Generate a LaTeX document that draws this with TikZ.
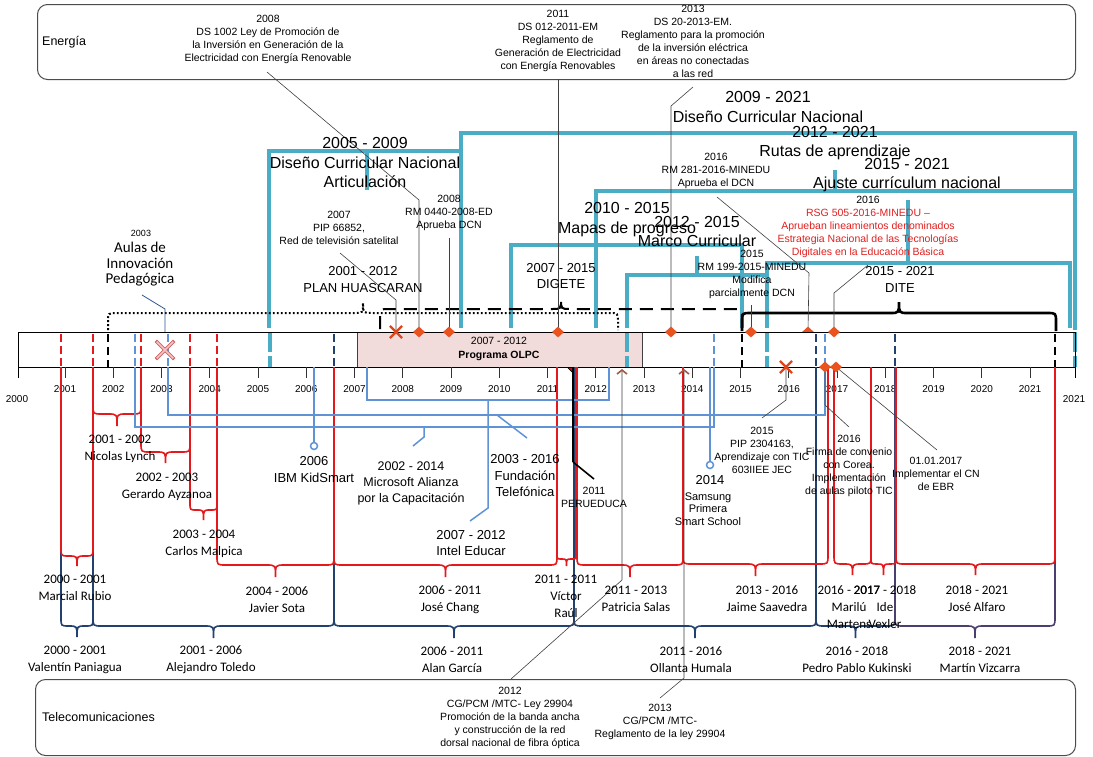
\documentclass[tikz,border=0pt]{standalone}
\usepackage{fontspec}
\setmainfont{Liberation Sans}
\newfontfamily\calfont{Carlito}
\usetikzlibrary{arrows.meta,shapes.geometric,shapes.misc}
\definecolor{tealc}{HTML}{4BACC6}
\definecolor{mred}{HTML}{E3191C}
\definecolor{navy}{HTML}{23416F}
\definecolor{lblue}{HTML}{5F93D6}
\definecolor{dia}{HTML}{EA531E}
\definecolor{olpcfill}{HTML}{F2DCDB}
\definecolor{brownc}{HTML}{A05A48}
\definecolor{conng}{HTML}{404040}
\definecolor{rednote}{HTML}{E21F1F}
\definecolor{xred}{HTML}{E0461E}
\definecolor{pinkx}{HTML}{F6C4C4}
\definecolor{pinkxd}{HTML}{D06060}
\definecolor{aulasc}{HTML}{2F5590}
\definecolor{navyp}{HTML}{4A3F6E}
\newcommand\cbrace[6][]{%
  \pgfmathsetmacro\cbxc{(#2+#3)/2}%
  \pgfmathsetmacro\cbr{min(9,(#3-#2)/4)}%
  \pgfmathsetmacro\cbs{(#5>#4)?1:-1}%
  \pgfmathsetmacro\cbv{#5-\cbs*\cbr}%
  \draw[#1] (#2,#4) -- (#2,\cbv) .. controls (#2,#5) .. (#2+\cbr,#5) -- (\cbxc-\cbr,#5) .. controls (\cbxc,#5) .. (\cbxc,#6) .. controls (\cbxc,#5) .. (\cbxc+\cbr,#5) -- (#3-\cbr,#5) .. controls (#3,#5) .. (#3,\cbv) -- (#3,#4);%
}
\tikzset{
 note/.style={font=\fontsize{10.5}{13}\selectfont, align=center, inner sep=0pt},
 bigl/.style={font=\fontsize{16}{19.5}\selectfont, align=center, inner sep=0pt},
 midl/.style={font=\fontsize{13}{16.5}\selectfont, align=center, inner sep=0pt},
 call/.style={font=\calfont\fontsize{13}{17}\selectfont, align=center, inner sep=0pt},
 yrl/.style={font=\fontsize{10}{12}\selectfont, inner sep=0pt},
 tealb/.style={tealc, line width=3.6pt},
 tealdash/.style={tealc, line width=3.6pt, dash pattern=on 20pt off 4pt},
 redb/.style={mred, line width=1.6pt},
 navyb/.style={navy, line width=1.6pt},
 blueb/.style={lblue, line width=1.5pt},
 conn/.style={conng, line width=0.6pt},
 diam/.style={diamond, fill=dia, inner sep=0pt, minimum width=12pt, minimum height=11pt},
 xmk/.style={cross out, draw=xred, line width=2.2pt, minimum size=10pt, inner sep=0pt},
 box/.style={draw=black!70, rounded corners=10pt, line width=1pt, inner sep=0pt, anchor=north west},
 barb/.style={{Straight Barb[color=brownc, line width=1.6pt, length=4pt, width=10pt]}-},
 dot/.style={circle, draw=lblue, line width=1.5pt, fill=white, minimum size=7pt, inner sep=0pt}
}
\begin{document}
\begin{tikzpicture}[x=1pt,y=-1pt]
\useasboundingbox (0,0) rectangle (1093,756);
\fill[white] (0,0) rectangle (1093,756);

% ---------- boxes
\node[box, minimum width=1038pt, minimum height=75pt] (energia) at (37,4) {};
\node[anchor=west, inner sep=0pt, font=\fontsize{12.5}{15}\selectfont] (energiaT) at (42,42) {Energía};
\node[box, minimum width=1040pt, minimum height=76pt] (telecom) at (35,679) {};
\node[anchor=west, inner sep=0pt, font=\fontsize{12.5}{15}\selectfont] (telecomT) at (42,717) {Telecomunicaciones};

% ---------- named points
\coordinate (p419) at (419,332); \coordinate (p449) at (449,332); \coordinate (p558) at (558,332);
\coordinate (p671) at (671,332); \coordinate (p751) at (751,332); \coordinate (p808) at (808,332);
\coordinate (p834) at (834,332); \coordinate (q825) at (825,367); \coordinate (q836) at (836,367);
\coordinate (xa) at (396,332); \coordinate (xb) at (786,367); \coordinate (q573) at (573,367);
\coordinate (br1) at (622,369); \coordinate (br2) at (684,369); \coordinate (ax) at (165,350);
\coordinate (c08a) at (267,72); \coordinate (c08b) at (419,200);
\coordinate (c11a) at (558,79);
\coordinate (c13a) at (693,87); \coordinate (c13b) at (671,106);
\coordinate (c07a) at (340,253); \coordinate (c07b) at (396,300);
\coordinate (c08c) at (449,238);
\coordinate (c16a) at (717,197); \coordinate (c16b) at (809,273);
\coordinate (c15a) at (751,305);
\coordinate (c16c) at (868,265); \coordinate (c16d) at (834,293);
\coordinate (ca1) at (142,295); \coordinate (ca2) at (165,309); \coordinate (ca3) at (165,344);
\coordinate (c15b1) at (786,400); \coordinate (c15b2) at (762,418);
\coordinate (c16e1) at (825,405); \coordinate (c16e2) at (849,427);
\coordinate (c17) at (937,450);
\coordinate (cpe1) at (573,462); \coordinate (cpe2) at (594,479);
\coordinate (ct12a) at (622,580); \coordinate (ct12b) at (511,679);
\coordinate (ct13a) at (684,678); \coordinate (ct13b) at (660,698);

% ---------- teal curriculum brackets
\draw[tealb] (269,328) -- (269,151) -- (461,151);
\draw[tealb] (367,151) -- (367,190);
\draw[tealb] (461,328) -- (461,133) -- (1075,133) -- (1075,330);
\draw[tealb] (596,328) -- (596,191) -- (1075,191);
\draw[tealb] (835,191) -- (835,170);
\draw[tealb] (511,328) -- (511,245) -- (742,245) -- (742,328);
\draw[tealb] (627,328) -- (627,275) -- (767,275) -- (767,328);
\draw[tealb] (697,275) -- (697,256);
\draw[tealb] (767,275) -- (767,263) -- (1070,263) -- (1070,328);
\draw[tealb] (908,263) -- (908,200);

% ---------- top braces
\cbrace[black, line width=2pt, dash pattern=on 1.8pt off 2.2pt]{108}{618}{330}{313}{303}
\cbrace[black, line width=2pt, dash pattern=on 13pt off 8pt]{380}{742}{329}{309}{299}
\cbrace[black, line width=2.6pt]{742}{1056}{331}{313}{302}

% ---------- top connectors
\draw[conn] (c08a) -- (c08b) -- (p419);
\draw[conn] (c11a) -- (p558);
\draw[conn] (c13a) -- (c13b) -- (p671);
\draw[conn] (c07a) -- (c07b) -- (xa);
\draw[conn] (c08c) -- (p449);
\draw[conn] (c16a) -- (c16b) -- (p808);
\draw[conn] (c15a) -- (p751);
\draw[conn] (c16c) -- (c16d) -- (p834);
\draw[aulasc, line width=0.8pt] (ca1) -- (ca2) -- (ca3);

% ---------- top texts
\node[note] (n08) at (268,39.5) {2008\\DS 1002 Ley de Promoción de\\la Inversión en Generación de la\\Electricidad con Energía Renovable};
\node[note] (n11) at (558,41) {2011\\DS 012-2011-EM\\Reglamento de\\Generación de Electricidad\\con Energía Renovables};
\node[note] (n13) at (693,41.5) {2013\\DS 20-2013-EM.\\Reglamento para la promoción\\de la inversión eléctrica\\en áreas no conectadas\\a las red};

\node[bigl] (l0509) at (365,162.5) {2005 - 2009\\Diseño Curricular Nacional\\Articulación};
\node[bigl] (l0921) at (768,107) {2009 - 2021\\Diseño Curricular Nacional};
\node[bigl] (l1221) at (835,143) {2012 - 2021\\Rutas de aprendizaje};
\node[bigl] (l1521) at (907,175) {2015 - 2021\\Ajuste currículum nacional};
\node[bigl] (l1015) at (627,219.5) {2010 - 2015\\Mapas de progreso};
\node[bigl] (l1215) at (697,231.5) {2012 - 2015\\Marco Curricular};

\node[midl] (lplan) at (363,279.5) {2001 - 2012\\PLAN HUASCARAN};
\node[midl] (ldig) at (561,276) {2007 - 2015\\DIGETE};
\node[midl] (ldite) at (900,279.5) {2015 - 2021\\DITE};

\node[note] (n07) at (339,228) {2007\\PIP 66852,\\Red de televisión satelital};
\node[note] (n08b) at (449,212.5) {2008\\RM 0440-2008-ED\\Aprueba DCN};
\node[note] (n16a) at (716,171) {2016\\RM 281-2016-MINEDU\\Aprueba el DCN};
\node[note] (n15) at (752,274) {2015\\RM 199-2015-MINEDU\\Modifica\\parcialmente DCN};
\node[note, text=rednote] (n16b) at (868,227) {\textcolor{black}{2016}\\RSG 505-2016-MINEDU –\\Aprueban lineamientos denominados\\Estrategia Nacional de las Tecnologías\\Digitales en la Educación Básica};

\node[font=\fontsize{9}{10}\selectfont, inner sep=0pt] (a03) at (141,233) {2003};
\node[font=\calfont\fontsize{15}{15.5}\selectfont, align=center, inner sep=0pt] (aulas) at (140,264.5) {Aulas de\\Innovación\\Pedagógica};

% ---------- hidden-half diamonds
\node[diam] (dm808) at (p808) {};
\node[diamond, fill=mred!85!black, draw=black, line width=0.6pt, inner sep=0pt, minimum width=12pt, minimum height=12pt] (dperu) at (q573) {};

% ---------- timeline bar
\node[fill=white, minimum width=1057pt, minimum height=35pt, inner sep=0pt, anchor=north west] (bar) at (18,332) {};
\node[fill=olpcfill, minimum width=285pt, minimum height=35pt, inner sep=0pt, anchor=north west] (olpc) at (357,332) {};
\foreach \xx in {61,93,141,190,217} \draw[mred, line width=1.6pt, dash pattern=on 8pt off 4pt] (\xx,334) -- (\xx,367);
\foreach \xx in {135,168,714,825} \draw[lblue, line width=1.5pt, dash pattern=on 8pt off 4pt] (\xx,334) -- (\xx,367);
\foreach \xx in {334,816,895} \draw[navy, line width=1.6pt, dash pattern=on 8pt off 4pt] (\xx,334) -- (\xx,367);
\foreach \xx in {270,627,767,1075} \draw[tealdash] (\xx,332) -- (\xx,367);
\draw[black, line width=1.6pt, dash pattern=on 8pt off 5pt] (108,334) -- (108,367);
\draw[black, line width=2.6pt, dash pattern=on 8pt off 5pt] (742,334) -- (742,367);
\draw[black, line width=2.6pt, dash pattern=on 8pt off 5pt] (1055,334) -- (1055,367);
\draw[black!75, line width=0.8pt] (olpc.north west) rectangle (olpc.south east);
\draw[black, line width=0.8pt] (bar.north west) rectangle (bar.south east);
\node[note, font=\fontsize{10.5}{14}\selectfont] (olpcT) at (499,349) {2007 - 2012\\\textbf{Programa OLPC}};

% ---------- axis
\draw[black, line width=0.8pt] (18,367) -- (18,378);
\draw[black, line width=0.8pt] (1075,367) -- (1075,378);
\foreach \yy in {2001,...,2021}{
  \pgfmathsetmacro\xx{65+(\yy-2001)*48.25}
  \draw[black!80, line width=0.8pt] (\xx,367) -- (\xx,378);
  \node[yrl] (yl\yy) at (\xx,389) {\yy};
}
\node[yrl] (yl2000) at (17,399) {2000};
\node[yrl] (yl2021b) at (1074,399) {2021};

% ---------- presidents (navy)
\cbrace[navyb]{61}{93}{367}{626}{637}
\cbrace[navyb]{93}{334}{367}{626}{638}
\cbrace[navyb]{334}{574}{367}{626}{638}
\cbrace[navyb]{574}{816}{367}{626}{638}
\cbrace[navyb]{816}{895}{367}{626}{638}
\cbrace[navyp, line width=1.6pt]{895}{1055}{367}{626}{638}

% ---------- ministers (red)
\cbrace[redb]{61}{93}{367}{556}{566}
\cbrace[redb]{93}{141}{367}{414}{426}
\cbrace[redb]{141}{190}{367}{452}{463}
\cbrace[redb]{190}{217}{367}{510}{520}
\cbrace[redb]{217}{334}{367}{565}{577}
\cbrace[redb]{334}{557}{367}{565}{577}
\cbrace[redb]{557}{576}{367}{559}{566}
\cbrace[redb]{577}{683}{367}{565}{577}
\cbrace[redb]{683}{828}{367}{564}{576}
\cbrace[redb]{834}{871}{367}{564}{575}
\cbrace[redb]{871}{896}{367}{564}{575}
\cbrace[redb]{896}{1055}{367}{564}{575}

% ---------- companies (light blue)
\draw[blueb] (135,367) -- (135,427) -- (714,427) -- (714,367);
\draw[blueb] (424,427) -- (424,437) -- (413,446);
\draw[blueb] (168,367) -- (168,415) -- (825,415) -- (825,367);
\draw[blueb] (497,415) -- (527,438);
\draw[blueb] (367,367) -- (367,400) -- (609,400) -- (609,367);
\draw[blueb] (488,400) -- (488,508) -- (470,521);
\node[dot] (ibmc) at (314,446) {};
\node[dot] (samc) at (710,465) {};
\draw[blueb] (314,367) -- (ibmc);
\draw[blueb] (710,367) -- (samc);

% ---------- PERUEDUCA
\draw[black, line width=2.6pt] (dperu.center) -- (cpe1);
\draw[black, line width=1.6pt] (cpe1) -- (cpe2);

% ---------- lower connectors
\draw[conn] (xb) -- (c15b1) -- (c15b2);
\draw[conn] (q825) -- (c16e1) -- (c16e2);
\draw[conn] (q836) -- (c17);
\draw[conn, barb] (br1) -- (ct12a) -- (ct12b);
\draw[conn, barb] (br2) -- (ct13a) -- (ct13b);

% ---------- lower texts
\node[call] (m1) at (75,588) {2000 - 2001\\Marcial Rubio};
\node[call] (m2) at (120,449) {2001 - 2002\\Nicolas Lynch};
\node[call] (m3) at (167,486.5) {2002 - 2003\\Gerardo Ayzanoa};
\node[call] (m4) at (204,543.5) {2003 - 2004\\Carlos Malpica};
\node[call] (m5) at (277,599.5) {2004 - 2006\\Javier Sota};
\node[call] (m6) at (450,599.5) {2006 - 2011\\José Chang};
\node[call] (m7) at (566,596.5) {2011 - 2011\\Víctor\\Raúl};
\node[call] (m8) at (636,599) {2011 - 2013\\Patricia Salas};
\node[call] (m9) at (767,599) {2013 - 2016\\Jaime Saavedra};
\node[call] (m10) at (849,607) {2016 - 2017\\Marilú\\Martens};
\node[call] (m11) at (885,607) {2017 - 2018\\Ide\\Vexler};
\node[call] (m12) at (977,598.5) {2018 - 2021\\José Alfaro};

\node[call] (pr1) at (75,660) {2000 - 2001\\Valentín Paniagua};
\node[call] (pr2) at (211,660) {2001 - 2006\\Alejandro Toledo};
\node[call] (pr3) at (452,660) {2006 - 2011\\Alan García};
\node[call] (pr4) at (691,660) {2011 - 2016\\Ollanta Humala};
\node[call] (pr5) at (857,660) {2016 - 2018\\Pedro Pablo Kukinski};
\node[call] (pr6) at (980,660) {2018 - 2021\\Martín Vizcarra};

\node[midl] (ibm) at (314,469.5) {2006\\IBM KidSmart};
\node[midl, font=\fontsize{12.5}{16}\selectfont] (ms) at (411,483) {2002 - 2014\\Microsoft Alianza\\por la Capacitación};
\node[midl] (tel) at (525,476) {2003 - 2016\\Fundación\\Telefónica};
\node[midl] (intel) at (471,543) {2007 - 2012\\Intel Educar};
\node[midl] (sam14) at (710,480) {2014};
\node[note, font=\fontsize{11}{12.5}\selectfont] (sam) at (708,509) {Samsung\\Primera\\Smart School};
\node[note] (peru) at (594,497) {2011\\PERUEDUCA};

\node[note] (n15b) at (762,450) {2015\\PIP 2304163,\\Aprendizaje con TIC\\603IIEE JEC};
\node[note] (n16c) at (849,465.5) {2016\\Firma de convenio\\con Corea.\\Implementación\\de aulas piloto TIC};
\node[note] (n17) at (936,474) {01.01.2017\\Implementar el CN\\de EBR};

\node[note] (t12) at (510,717.5) {2012\\CG/PCM /MTC- Ley 29904\\Promoción de la banda ancha\\y construcción de la red\\dorsal nacional de fibra óptica};
\node[note] (t13) at (660,722) {2013\\CG/PCM /MTC-\\Reglamento de la ley 29904};

% ---------- markers
\node[diam] (dm419) at (p419) {};
\node[diam] (dm449) at (p449) {};
\node[diam] (dm558) at (p558) {};
\node[diam] (dm671) at (p671) {};
\node[diam] (dm751) at (p751) {};
\node[diam] (dm834) at (p834) {};
\node[diam] (dm825) at (q825) {};
\node[diam] (dm836) at (q836) {};
\node[xmk] (xma) at (xa) {};
\node[xmk] (xmb) at (xb) {};
\node[cross out, draw=pinkxd, line width=3.4pt, minimum size=15pt, inner sep=0pt] (aulasX) at (ax) {};
\node[cross out, draw=pinkx, line width=1.6pt, minimum size=15pt, inner sep=0pt] (aulasX2) at (ax) {};
\end{tikzpicture}
\end{document}
